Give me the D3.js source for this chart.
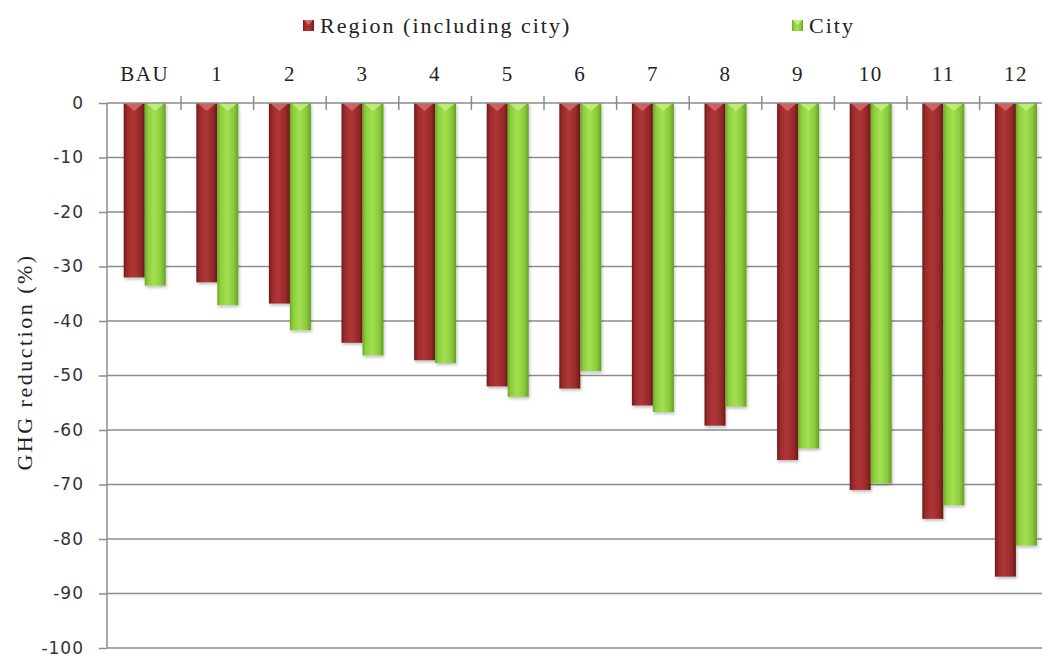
<!DOCTYPE html>
<html>
<head>
<meta charset="utf-8">
<script src="https://cdn.jsdelivr.net/npm/d3@7"></script>
<style>
  html, body { margin: 0; padding: 0; background: #fff; }
  svg { display: block; }
</style>
</head>
<body>
<svg id="chart" width="1042" height="657"></svg>
<script>
// ---- data ----
const categories = ["BAU", "1", "2", "3", "4", "5", "6", "7", "8", "9", "10", "11", "12"];
const regionValues = [-32.0, -32.9, -36.8, -44.0, -47.2, -52.0, -52.4, -55.5, -59.2, -65.5, -71.0, -76.3, -86.9];
const cityValues   = [-33.5, -37.1, -41.7, -46.3, -47.7, -53.9, -49.2, -56.7, -55.7, -63.4, -69.8, -73.8, -81.2];
const seriesNames = ["Region (including city)", "City"];
const yTicks = [0, -10, -20, -30, -40, -50, -60, -70, -80, -90, -100];

const svg = d3.select("#chart");
const left = 108.4, step = 72.6;
const x0 = d3.scaleBand().domain(categories).range([left, left + step * categories.length]).paddingInner(0).paddingOuter(0);
const x1 = d3.scaleBand().domain(seriesNames).range([0, x0.bandwidth()]).paddingInner(0).paddingOuter(0.73);
const y = d3.scaleLinear().domain([-100, 0]).range([648, 103]);

// gradients
const defs = svg.append("defs");
function grad(id, stops) {
  const g = defs.append("linearGradient").attr("id", id).attr("x1", "0%").attr("x2", "100%").attr("y1", "0%").attr("y2", "0%");
  stops.forEach(s => g.append("stop").attr("offset", s[0]).attr("stop-color", s[1]));
}
grad("gRed", [["0%", "#6e1a1a"], ["15%", "#9a2b2b"], ["45%", "#b03636"], ["80%", "#962a2a"], ["100%", "#6a1818"]]);
grad("gGreen", [["0%", "#6aa628"], ["15%", "#8cce3c"], ["45%", "#a3e052"], ["80%", "#88c93a"], ["100%", "#649e25"]]);
const shadow = defs.append("filter").attr("id", "sh").attr("x", "-20%").attr("y", "-5%").attr("width", "150%").attr("height", "115%");
shadow.append("feDropShadow").attr("dx", 1).attr("dy", 2).attr("stdDeviation", 1.5).attr("flood-color", "#000").attr("flood-opacity", 0.25);

// gridlines
svg.append("g").selectAll("line").data(yTicks.filter(d => d !== 0)).join("line")
  .attr("x1", 107).attr("x2", 1060)
  .attr("y1", d => y(d)).attr("y2", d => y(d))
  .attr("stroke", "#8c8c8c").attr("stroke-width", 1.5);

// y axis
const yAxis = d3.axisLeft(y).tickValues(yTicks).tickSize(8).tickPadding(15).tickFormat(d => String(d));
const yg = svg.append("g").attr("transform", "translate(107,0)").call(yAxis);
yg.select(".domain").attr("stroke", "#8c8c8c").attr("stroke-width", 1.5).attr("d", `M0,${y(0)}V${y(-100)}`);
yg.selectAll(".tick line").attr("stroke", "#8c8c8c").attr("stroke-width", 1.5);
yg.selectAll(".tick text").attr("font-family", "DejaVu Sans, Verdana, sans-serif").attr("font-size", 17)
  .attr("letter-spacing", "1px").attr("fill", "#333");

// bars
const colors = { "Region (including city)": ["url(#gRed)", "#d86a6a"], "City": ["url(#gGreen)", "#c4f07e"] };
const rows = categories.map((c, i) => ({ cat: c, vals: [
  { s: seriesNames[0], v: regionValues[i] }, { s: seriesNames[1], v: cityValues[i] }] }));
const groups = svg.append("g").selectAll("g").data(rows).join("g")
  .attr("transform", d => `translate(${x0(d.cat)},0)`);
groups.selectAll("rect").data(d => d.vals).join("rect")
  .attr("x", d => x1(d.s)).attr("width", x1.bandwidth())
  .attr("y", y(0)).attr("height", d => y(d.v) - y(0))
  .attr("fill", d => colors[d.s][0]).attr("filter", "url(#sh)");
groups.selectAll("path").data(d => d.vals).join("path")
  .attr("d", d => {
    const bx = x1(d.s), w = x1.bandwidth(), t = y(0);
    return `M${bx + 1},${t}L${bx + w - 1},${t}L${bx + w / 2},${t + 8}Z`;
  })
  .attr("fill", d => colors[d.s][1]).attr("opacity", 0.85);

// top axis line with boundary ticks
svg.append("line").attr("x1", 107).attr("x2", 1060).attr("y1", y(0)).attr("y2", y(0))
  .attr("stroke", "#8c8c8c").attr("stroke-width", 1.5);
const xAxis = d3.axisTop(x0).tickSize(0).tickPadding(22);
const xg = svg.append("g").attr("transform", `translate(0,${y(0)})`).call(xAxis);
xg.select(".domain").remove();
xg.selectAll(".tick text").attr("font-family", "Liberation Serif, Times New Roman, serif").attr("font-size", 21)
  .attr("letter-spacing", "1.5px").attr("fill", "#222");
svg.append("g").selectAll("line").data(categories.slice(1)).join("line")
  .attr("x1", d => x0(d)).attr("x2", d => x0(d))
  .attr("y1", y(0) - 7).attr("y2", y(0) + 7)
  .attr("stroke", "#8c8c8c").attr("stroke-width", 1.5);

// y title
svg.append("text").attr("transform", "translate(32,362) rotate(-90)")
  .attr("text-anchor", "middle").attr("font-family", "Liberation Serif, Times New Roman, serif")
  .attr("font-size", 22).attr("letter-spacing", "2.5px").attr("fill", "#222")
  .text("GHG reduction (%)");

// legend
const legendPos = [303, 792];
const legendSw = [["url(#gRed)", "#d86a6a"], ["url(#gGreen)", "#c4f07e"]];
const lg = svg.append("g").selectAll("g").data(seriesNames).join("g")
  .attr("transform", (d, i) => `translate(${legendPos[i]},20)`);
lg.append("rect").attr("width", 11).attr("height", 11).attr("fill", (d, i) => legendSw[i][0]);
lg.append("path").attr("d", "M1,0L10,0L5.5,5Z").attr("fill", (d, i) => legendSw[i][1]);
lg.append("text").attr("x", 17).attr("y", 13)
  .attr("font-family", "Liberation Serif, Times New Roman, serif").attr("font-size", 22)
  .attr("letter-spacing", "2px").attr("fill", "#222").text(d => d);
</script>
</body>
</html>
